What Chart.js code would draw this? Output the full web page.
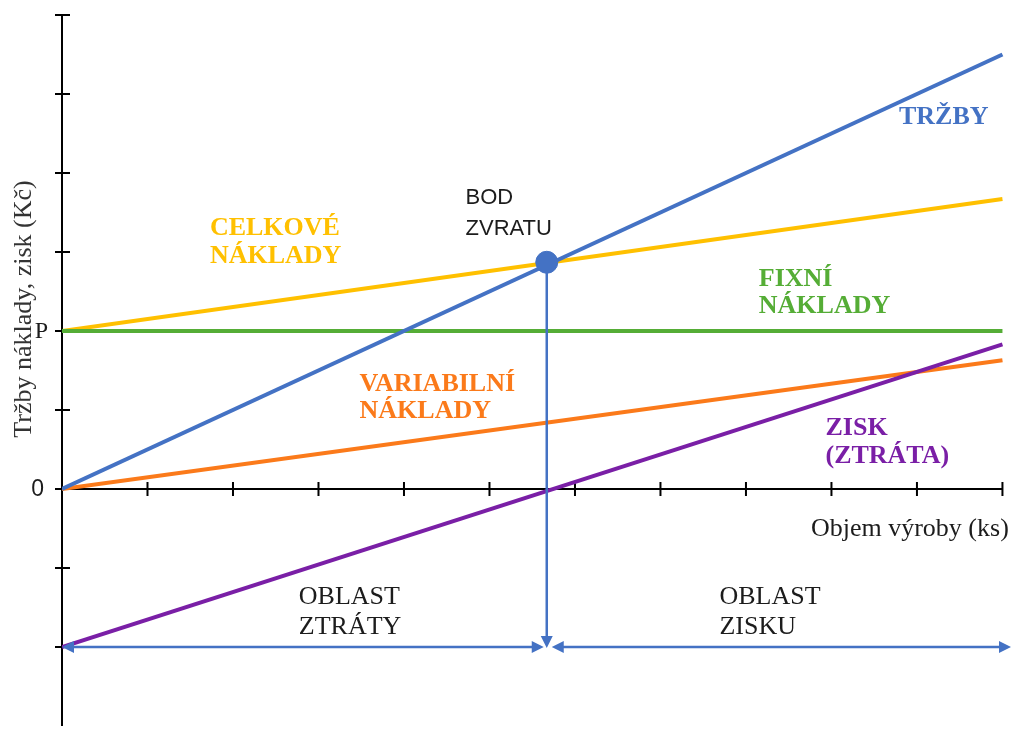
<!DOCTYPE html>
<html>
<head>
<meta charset="utf-8">
<title>Bod zvratu</title>
<script src="https://cdn.jsdelivr.net/npm/chart.js@4/dist/chart.umd.min.js"></script>
<style>
  html, body { margin: 0; padding: 0; background: #fff; }
  canvas { display: block; }
</style>
</head>
<body>
<canvas id="chart" width="1023" height="738"></canvas>
<script>
// hodnoty (x = objem výroby, y = Kč v jednotkách dílků)
const objem = [0, 11];
const trzby = [0, 5.5];
const celkoveNaklady = [2, 3.67];
const fixniNaklady = [2, 2];
const variabilniNaklady = [0, 1.63];
const zisk = [-2, 1.83];
const bodZvratu = [5.67, 2.87];

const xTicks = [1, 2, 3, 4, 5, 6, 7, 8, 9, 10, 11];
const yTicks = [-2, -1, 0, 1, 2, 3, 4, 5, 6];
const yTickLabels = ['', '', '0', '', 'P', '', '', '', ''];

const BLUE = '#4472c4';
const YELLOW = '#ffc000';
const GREEN = '#55ad36';
const ORANGE = '#fb7a1a';
const PURPLE = '#7a1fa6';
const INK = '#1c1c1c';
const SERIF = '"Liberation Serif", "Times New Roman", serif';
const SANS = '"Liberation Sans", Arial, sans-serif';

// popisky v grafu (pozice v jednotkách os)
const notes = [
  { lines: ['TRŽBY'], x: 9.79, y: 4.70, color: BLUE, font: 'bold 26px ' + SERIF, gap: 28 },
  { lines: ['CELKOVÉ', 'NÁKLADY'], x: 1.73, y: 3.30, color: YELLOW, font: 'bold 26px ' + SERIF, gap: 28 },
  { lines: ['FIXNÍ', 'NÁKLADY'], x: 8.15, y: 2.66, color: GREEN, font: 'bold 26px ' + SERIF, gap: 27 },
  { lines: ['VARIABILNÍ', 'NÁKLADY'], x: 3.48, y: 1.33, color: ORANGE, font: 'bold 26px ' + SERIF, gap: 27 },
  { lines: ['ZISK', '(ZTRÁTA)'], x: 8.93, y: 0.77, color: PURPLE, font: 'bold 26px ' + SERIF, gap: 28 },
  { lines: ['BOD', 'ZVRATU'], x: 4.72, y: 3.68, color: INK, font: '22px ' + SANS, gap: 31 },
  { lines: ['OBLAST', 'ZTRÁTY'], x: 2.77, y: -1.37, color: INK, font: '26px ' + SERIF, gap: 30 },
  { lines: ['OBLAST', 'ZISKU'], x: 7.69, y: -1.37, color: INK, font: '26px ' + SERIF, gap: 30 },
  { lines: ['Objem výroby (ks)'], x: 8.76, y: -0.51, color: INK, font: '26px ' + SERIF, gap: 0 }
];

function pts(ys) {
  return objem.map((x, i) => ({ x: x, y: ys[i] }));
}

function arrowHead(ctx, x, y, angle) {
  ctx.save();
  ctx.translate(x, y);
  ctx.rotate(angle);
  ctx.beginPath();
  ctx.moveTo(0, 0);
  ctx.lineTo(-12, -6);
  ctx.lineTo(-12, 6);
  ctx.closePath();
  ctx.fill();
  ctx.restore();
}

const axesPlugin = {
  id: 'axes',
  beforeDatasetsDraw(chart) {
    const ctx = chart.ctx;
    const xs = chart.scales.x, ys = chart.scales.y;
    const x0 = xs.getPixelForValue(0), y0 = ys.getPixelForValue(0);
    ctx.save();
    ctx.strokeStyle = '#000';
    ctx.lineWidth = 2;
    ctx.beginPath();
    ctx.moveTo(x0, chart.chartArea.top);
    ctx.lineTo(x0, chart.chartArea.bottom);
    ctx.moveTo(x0, y0);
    ctx.lineTo(xs.getPixelForValue(xTicks[xTicks.length - 1]), y0);
    yTicks.forEach(v => {
      const py = ys.getPixelForValue(v);
      ctx.moveTo(x0 - 7, py);
      ctx.lineTo(x0 + 8, py);
    });
    xTicks.forEach(v => {
      const px = xs.getPixelForValue(v);
      ctx.moveTo(px, y0 - 7);
      ctx.lineTo(px, y0 + 7);
    });
    ctx.stroke();

    // popisky osy y
    ctx.fillStyle = INK;
    ctx.textBaseline = 'middle';
    ctx.textAlign = 'right';
    yTicks.forEach((v, i) => {
      const t = yTickLabels[i];
      if (!t) return;
      ctx.font = t === 'P' ? '24px ' + SERIF : '23px ' + SANS;
      ctx.fillText(t, t === 'P' ? x0 - 14 : x0 - 18, ys.getPixelForValue(v) + 1);
    });

    // nadpis osy y
    ctx.save();
    ctx.translate(24, 309);
    ctx.rotate(-Math.PI / 2);
    ctx.textAlign = 'center';
    ctx.font = '26px ' + SERIF;
    ctx.fillStyle = '#333';
    ctx.fillText('Tržby náklady, zisk (Kč)', 0, 0);
    ctx.restore();
    ctx.restore();
  },
  afterDatasetsDraw(chart) {
    const ctx = chart.ctx;
    const xs = chart.scales.x, ys = chart.scales.y;
    const cx = xs.getPixelForValue(bodZvratu[0]);
    const cy = ys.getPixelForValue(bodZvratu[1]);
    const ay = ys.getPixelForValue(-2);
    const left = xs.getPixelForValue(0);
    const right = chart.chartArea.right;
    ctx.save();
    ctx.strokeStyle = BLUE;
    ctx.fillStyle = BLUE;
    ctx.lineWidth = 2.5;
    ctx.beginPath();
    ctx.moveTo(cx, cy + 10);
    ctx.lineTo(cx, ay - 8);
    ctx.moveTo(left + 8, ay);
    ctx.lineTo(cx - 12, ay);
    ctx.moveTo(cx + 16, ay);
    ctx.lineTo(right - 8, ay);
    ctx.stroke();
    arrowHead(ctx, cx, ay + 1, Math.PI / 2);
    arrowHead(ctx, cx - 3, ay, 0);
    arrowHead(ctx, cx + 5, ay, Math.PI);
    arrowHead(ctx, left, ay, Math.PI);
    arrowHead(ctx, right, ay, 0);

    ctx.textAlign = 'left';
    ctx.textBaseline = 'middle';
    notes.forEach(n => {
      ctx.font = n.font;
      ctx.fillStyle = n.color;
      const px = xs.getPixelForValue(n.x);
      const py = ys.getPixelForValue(n.y);
      n.lines.forEach((line, i) => ctx.fillText(line, px, py + i * n.gap));
    });
    ctx.restore();
  }
};

const lineStyle = { borderWidth: 4, pointRadius: 0, tension: 0, fill: false };

new Chart(document.getElementById('chart'), {
  type: 'line',
  data: {
    datasets: [
      { label: 'Bod zvratu', data: [{ x: bodZvratu[0], y: bodZvratu[1] }], showLine: false,
        pointRadius: 11, pointBackgroundColor: BLUE, pointBorderColor: BLUE, borderColor: BLUE },
      Object.assign({ label: 'Zisk (ztráta)', data: pts(zisk), borderColor: PURPLE }, lineStyle),
      Object.assign({ label: 'Tržby', data: pts(trzby), borderColor: BLUE }, lineStyle),
      Object.assign({ label: 'Fixní náklady', data: pts(fixniNaklady), borderColor: GREEN }, lineStyle),
      Object.assign({ label: 'Celkové náklady', data: pts(celkoveNaklady), borderColor: YELLOW }, lineStyle),
      Object.assign({ label: 'Variabilní náklady', data: pts(variabilniNaklady), borderColor: ORANGE }, lineStyle)
    ]
  },
  options: {
    responsive: false,
    animation: false,
    devicePixelRatio: 1,
    layout: { padding: { left: 62, right: 3, top: 15, bottom: 0 } },
    scales: {
      x: { type: 'linear', min: 0, max: 11.1, display: false },
      y: { type: 'linear', min: -3, max: 6, display: false }
    },
    plugins: { legend: { display: false }, tooltip: { enabled: false } }
  },
  plugins: [axesPlugin]
});
</script>
</body>
</html>
